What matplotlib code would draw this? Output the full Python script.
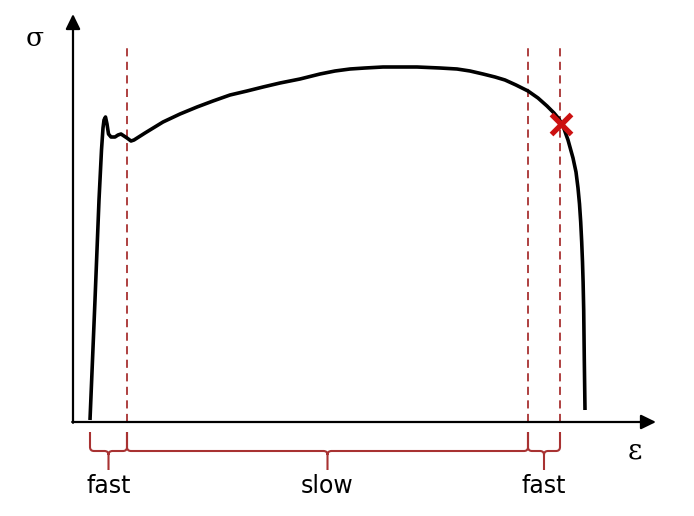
import matplotlib.pyplot as plt
from matplotlib.path import Path
from matplotlib.patches import PathPatch

# stress-strain curve (arbitrary units, origin at the axes corner)
strain = [17, 22, 26, 28.5, 30, 31, 32.5, 34, 35.5, 38, 42, 45, 48, 51, 54, 58, 61, 72,
          90, 107, 124, 140, 157, 174, 190, 207, 227, 247, 262, 277, 292, 310, 327, 344,
          367, 384, 397, 410, 422, 432, 443, 455, 465, 474, 481, 486, 490, 495, 500,
          503, 505, 506.5, 507.7, 508.7, 509.5, 510.1, 510.7, 511.3, 512]
stress = [2, 122, 222, 272, 294, 302, 305, 298, 288, 285, 285, 287, 288, 286, 284, 281,
          282, 289, 300, 308, 315, 321, 327, 331, 335, 339, 343, 348, 351, 353, 354, 355,
          355, 355, 354, 353, 351, 348, 345, 342, 337, 331, 324, 316, 309, 303, 296, 282,
          264, 250, 234, 218, 200, 180, 160, 140, 112, 62, 12]

# region borders and labels
borders = [17, 54, 455, 487]
dashed_x = [54, 455, 487]
regions = ['fast', 'slow', 'fast']
fracture = (488, 298)

dark_red = '#a83232'

fig = plt.figure(figsize=(6.94, 5.16), dpi=100)
ax = fig.add_axes([0, 0, 1, 1])
ax.set_xlim(-73, 621)
ax.set_ylim(-94, 422)
ax.axis('off')

# axes with arrows
arrow = dict(arrowstyle='-|>,head_length=0.45,head_width=0.22', lw=1.6, color='black',
             mutation_scale=20, shrinkA=0, shrinkB=0)
ax.annotate('', xy=(0, 408), xytext=(0, -0.8), arrowprops=arrow)
ax.annotate('', xy=(583, 0), xytext=(-0.8, 0), arrowprops=arrow)
ax.text(-38, 384, 'σ', fontsize=19, family='DejaVu Serif', ha='center', va='center')
ax.text(562, -29, 'ε', fontsize=20, family='DejaVu Serif', ha='center', va='center')

# dashed borders
for x in dashed_x:
    ax.plot([x, x], [0, 377], color=dark_red, lw=1.3, dashes=(4.5, 3))

# curve
ax.plot(strain, stress, color='black', lw=2.6, solid_joinstyle='round',
        solid_capstyle='butt')
ax.plot(*fracture, marker='x', color='#cc1111', markersize=15, mew=3.8)


def brace(x0, x1, ytop=-10, ymid=-29, ytip=-48, r=4):
    xm = (x0 + x1) / 2
    verts = [(x0, ytop), (x0, ymid + r), (x0, ymid), (x0 + r, ymid),
             (xm - r, ymid), (xm, ymid), (xm, ymid - r), (xm, ytip),
             (xm, ymid - r), (xm, ymid), (xm + r, ymid),
             (x1 - r, ymid), (x1, ymid), (x1, ymid + r), (x1, ytop)]
    codes = [Path.MOVETO, Path.LINETO, Path.CURVE3, Path.CURVE3,
             Path.LINETO, Path.CURVE3, Path.CURVE3, Path.LINETO,
             Path.MOVETO, Path.CURVE3, Path.CURVE3,
             Path.LINETO, Path.CURVE3, Path.CURVE3, Path.LINETO]
    ax.add_patch(PathPatch(Path(verts, codes), fill=False, edgecolor=dark_red, lw=1.5))
    return xm


for i, label in enumerate(regions):
    xm = brace(borders[i], borders[i + 1])
    ax.text(xm, -71, label, fontsize=17, ha='center', va='baseline')

fig.savefig('out.png', dpi=100)
